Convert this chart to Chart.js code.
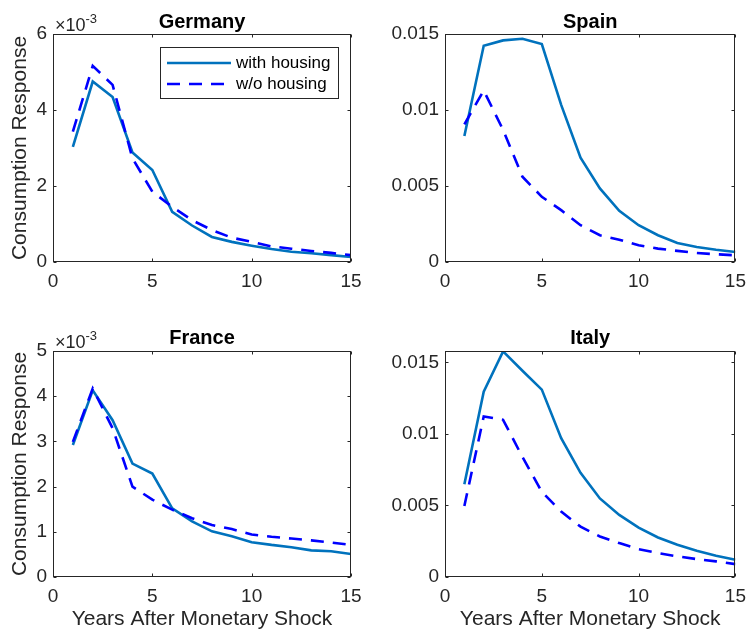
<!DOCTYPE html>
<html>
<head>
<meta charset="utf-8">
<script src="https://cdn.jsdelivr.net/npm/chart.js@4.4.0/dist/chart.umd.min.js"></script>
<style>
  body { margin: 0; background: #fff; }
  #wrap { position: relative; width: 754px; height: 632px; overflow: hidden; }
  canvas { position: absolute; }
</style>
</head>
<body>
<div id="wrap">
  <canvas id="germany" width="377" height="300" style="left:0;top:0"></canvas>
  <canvas id="spain" width="377" height="300" style="left:377px;top:0"></canvas>
  <canvas id="france" width="377" height="332" style="left:0;top:300px"></canvas>
  <canvas id="italy" width="377" height="332" style="left:377px;top:300px"></canvas>
</div>
<script>
// data (years after shock, consumption response)
var years = [1, 2, 3, 4, 5, 6, 7, 8, 9, 10, 11, 12, 13, 14, 15];

var germanyWith = [0.00303, 0.00475, 0.00434, 0.00288, 0.00242, 0.00132, 0.00096, 0.00066, 0.00053, 0.00043, 0.00034, 0.00027, 0.00023, 0.00018, 0.00013];
var germanyWithout = [0.00343, 0.00516, 0.00466, 0.00273, 0.00185, 0.00145, 0.00110, 0.00084, 0.00064, 0.00053, 0.00041, 0.00035, 0.00029, 0.00024, 0.00018];

var spainWith = [0.00829, 0.01423, 0.01458, 0.01469, 0.01434, 0.01034, 0.00686, 0.00484, 0.00337, 0.00242, 0.00176, 0.00125, 0.00099, 0.00081, 0.00066];
var spainWithout = [0.00906, 0.01128, 0.00869, 0.00561, 0.00429, 0.00341, 0.00242, 0.00176, 0.00147, 0.00110, 0.00088, 0.00073, 0.00059, 0.00051, 0.00044];

var franceWith = [0.00292, 0.00413, 0.00347, 0.00251, 0.00229, 0.00152, 0.00123, 0.00101, 0.00090, 0.00077, 0.00071, 0.00066, 0.00059, 0.00057, 0.00051];
var franceWithout = [0.00299, 0.00417, 0.00329, 0.00200, 0.00171, 0.00149, 0.00130, 0.00115, 0.00106, 0.00094, 0.00089, 0.00085, 0.00081, 0.00076, 0.00071];

var italyWith = [0.00649, 0.01296, 0.01577, 0.01442, 0.01310, 0.00971, 0.00728, 0.00549, 0.00434, 0.00345, 0.00276, 0.00225, 0.00183, 0.00148, 0.00121];
var italyWithout = [0.00496, 0.01122, 0.01099, 0.00839, 0.00596, 0.00457, 0.00352, 0.00283, 0.00237, 0.00195, 0.00167, 0.00144, 0.00125, 0.00109, 0.00090];

// ticks
var xTicks = [0, 5, 10, 15];
var xTickLabels = ["0", "5", "10", "15"];
var germanyTicks = [0, 0.002, 0.004, 0.006];
var germanyTickLabels = ["0", "2", "4", "6"];
var franceTicks = [0, 0.001, 0.002, 0.003, 0.004, 0.005];
var franceTickLabels = ["0", "1", "2", "3", "4", "5"];
var bigTicks = [0, 0.005, 0.01, 0.015];
var bigTickLabels = ["0", "0.005", "0.01", "0.015"];

var seriesNames = ["with housing", "w/o housing"];
var xTitle = "Years After Monetary Shock";
var yTitle = "Consumption Response";

var FONT = '"Liberation Sans", Arial, sans-serif';
var AXIS_COLOR = "#262626";
var DASH = [13, 9];
Chart.defaults.font.family = FONT;

function points(values) {
    return years.map(function (x, i) {
        return { x: x, y: values[i] };
    });
}

function makePanel(id, cfg) {
    //- box, inward ticks, title, exponent and legend, MATLAB style
    var axesPlugin = {
        id: "matlabAxes" + id,
        afterDraw: function (chart) {
            var ctx = chart.ctx;
            var a = chart.chartArea;
            var sx = chart.scales.x;
            var sy = chart.scales.y;
            var L = Math.round(a.left) + 0.5, R = Math.round(a.right) - 0.5;
            var T = Math.round(a.top) + 0.5, B = Math.round(a.bottom) - 0.5;
            ctx.save();
            ctx.strokeStyle = AXIS_COLOR;
            ctx.lineWidth = 1;
            ctx.setLineDash([]);
            ctx.strokeRect(L, T, R - L, B - T);
            ctx.beginPath();
            xTicks.forEach(function (v) {
                var px = Math.round(sx.getPixelForValue(v)) + 0.5;
                ctx.moveTo(px, B); ctx.lineTo(px, B - 3);
                ctx.moveTo(px, T); ctx.lineTo(px, T + 3);
            });
            cfg.yTicks.forEach(function (v) {
                var py = Math.round(sy.getPixelForValue(v)) + 0.5;
                ctx.moveTo(L, py); ctx.lineTo(L + 3, py);
                ctx.moveTo(R, py); ctx.lineTo(R - 3, py);
            });
            ctx.stroke();

            // title
            ctx.fillStyle = "#000";
            ctx.font = "bold 20px " + FONT;
            ctx.textAlign = "center";
            ctx.textBaseline = "alphabetic";
            ctx.fillText(cfg.title, (a.left + a.right) / 2, cfg.titleY);

            // exponent
            if (cfg.exponent) {
                ctx.fillStyle = AXIS_COLOR;
                ctx.textAlign = "left";
                ctx.font = "18px " + FONT;
                var base = "\u00d710";
                ctx.fillText(base, a.left + 2, a.top - 3);
                var w = ctx.measureText(base).width;
                ctx.font = "13px " + FONT;
                ctx.fillText(cfg.exponent, a.left + 2 + w, a.top - 11);
            }

            // legend
            if (cfg.legend) {
                var bx = a.left + 107, by = a.top + 13;
                ctx.fillStyle = "#fff";
                ctx.fillRect(bx, by, 178, 51);
                ctx.strokeStyle = AXIS_COLOR;
                ctx.strokeRect(bx + 0.5, by + 0.5, 178, 51);
                chart.data.datasets.forEach(function (ds, i) {
                    var ly = by + 16 + i * 21;
                    ctx.strokeStyle = ds.borderColor;
                    ctx.lineWidth = ds.borderWidth;
                    ctx.setLineDash(ds.borderDash || []);
                    ctx.beginPath();
                    ctx.moveTo(bx + 7, ly);
                    ctx.lineTo(bx + 71, ly);
                    ctx.stroke();
                    ctx.setLineDash([]);
                    ctx.fillStyle = "#000";
                    ctx.font = "17px " + FONT;
                    ctx.textAlign = "left";
                    ctx.textBaseline = "middle";
                    ctx.fillText(ds.label, bx + 76, ly);
                });
            }
            ctx.restore();
        },
    };

    new Chart(document.getElementById(id), {
        type: "line",
        data: {
            datasets: [
                {
                    label: seriesNames[0],
                    data: points(cfg.withData),
                    borderColor: "#0072BD",
                    borderWidth: 2.6,
                    pointRadius: 0,
                    tension: 0,
                    fill: false,
                    order: 1,
                },
                {
                    label: seriesNames[1],
                    data: points(cfg.withoutData),
                    borderColor: "#0000FF",
                    borderWidth: 2.6,
                    borderDash: DASH,
                    pointRadius: 0,
                    tension: 0,
                    fill: false,
                    order: 0,
                },
            ],
        },
        options: {
            responsive: false,
            animation: false,
            layout: { padding: { left: 0, right: cfg.padR, top: cfg.padT, bottom: 0 } },
            plugins: { legend: { display: false }, tooltip: { enabled: false } },
            scales: {
                x: {
                    type: "linear",
                    min: 0,
                    max: 15,
                    afterBuildTicks: function (s) {
                        s.ticks = xTicks.map(function (v) { return { value: v }; });
                    },
                    afterFit: function (s) { s.height = cfg.axisH; },
                    ticks: {
                        callback: function (v, i) { return xTickLabels[i]; },
                        color: AXIS_COLOR,
                        font: { size: 19 },
                        padding: 8,
                        maxRotation: 0,
                        autoSkip: false,
                    },
                    grid: { display: false, drawTicks: false },
                    border: { display: false },
                    title: {
                        display: !!cfg.xTitle,
                        text: cfg.xTitle || "",
                        color: AXIS_COLOR,
                        font: { size: 21 },
                        padding: { top: 0, bottom: 0 },
                    },
                },
                y: {
                    type: "linear",
                    min: 0,
                    max: cfg.yMax,
                    afterBuildTicks: function (s) {
                        s.ticks = cfg.yTicks.map(function (v) { return { value: v }; });
                    },
                    afterFit: function (s) { s.width = cfg.axisW; },
                    ticks: {
                        callback: function (v, i) { return cfg.yLabels[i]; },
                        color: AXIS_COLOR,
                        font: { size: 19 },
                        padding: 6,
                        autoSkip: false,
                    },
                    grid: { display: false, drawTicks: false },
                    border: { display: false },
                    title: {
                        display: !!cfg.yTitle,
                        text: cfg.yTitle || "",
                        color: AXIS_COLOR,
                        font: { size: 21 },
                        padding: { top: 8, bottom: 0 },
                    },
                },
            },
        },
        plugins: [axesPlugin],
    });
}

makePanel("germany", {
    title: "Germany", withData: germanyWith, withoutData: germanyWithout,
    yMax: 0.006, yTicks: germanyTicks, yLabels: germanyTickLabels, exponent: "-3",
    yTitle: yTitle, legend: true,
    axisW: 53, axisH: 38, padR: 26, padT: 34, titleY: 28,
});
makePanel("spain", {
    title: "Spain", withData: spainWith, withoutData: spainWithout,
    yMax: 0.015, yTicks: bigTicks, yLabels: bigTickLabels,
    axisW: 68, axisH: 38, padR: 11, padT: 34, titleY: 28,
});
makePanel("france", {
    title: "France", withData: franceWith, withoutData: franceWithout,
    yMax: 0.005, yTicks: franceTicks, yLabels: franceTickLabels, exponent: "-3",
    yTitle: yTitle, xTitle: xTitle,
    axisW: 53, axisH: 55, padR: 26, padT: 51, titleY: 44,
});
makePanel("italy", {
    title: "Italy", withData: italyWith, withoutData: italyWithout,
    yMax: 0.0158, yTicks: bigTicks, yLabels: bigTickLabels,
    xTitle: xTitle,
    axisW: 68, axisH: 55, padR: 11, padT: 51, titleY: 44,
});
</script>
</body>
</html>
